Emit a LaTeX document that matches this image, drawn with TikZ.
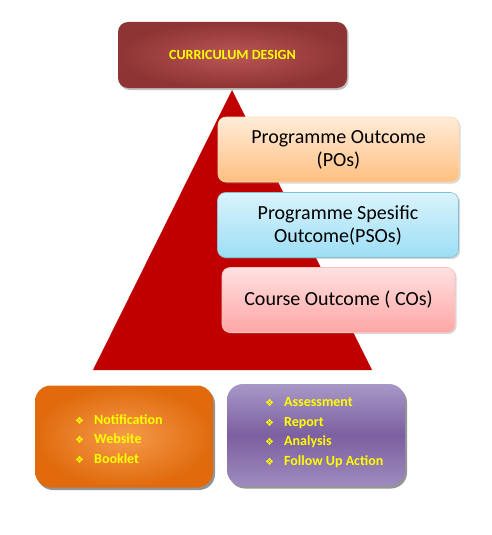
\documentclass[tikz,border=0pt]{standalone}
\usepackage{fontspec}
\usepackage{xcolor}
\setmainfont{Carlito}
\newfontfamily\symfont{DejaVu Sans}
\usetikzlibrary{shadows}

\definecolor{titleouter}{HTML}{8F3434}
\definecolor{titleinner}{HTML}{BA5656}
\definecolor{pyramidred}{HTML}{C00000}
\definecolor{listyellow}{HTML}{FFFF00}
\definecolor{orangeouter}{HTML}{E06A0C}
\definecolor{orangeinner}{HTML}{F59B4C}
\definecolor{lilactop}{HTML}{A898C8}
\definecolor{lilacmid}{HTML}{7C5FA0}
\definecolor{lilacbot}{HTML}{9E8BBE}
\definecolor{skytop}{HTML}{DAF3FC}
\definecolor{skybot}{HTML}{9CDEF5}
\definecolor{skyline}{HTML}{86BFD4}
\newcommand{\itm}{{\symfont\fontsize{10}{12}\selectfont ❖}\hspace{10pt}}

\tikzset{
  outbox/.style={rounded corners=8pt, minimum width=241pt, minimum height=65pt, align=center,
    font=\fontsize{20}{23}\selectfont, text=black, line width=0.6pt,
    drop shadow={shadow xshift=1.5pt, shadow yshift=-1.5pt, opacity=0.3}},
  listbox/.style={rounded corners=16pt, minimum width=178pt, minimum height=102pt,
    drop shadow={shadow xshift=2pt, shadow yshift=-2.5pt, opacity=0.6, fill=black!70}},
  listtext/.style={anchor=west, inner sep=0pt, align=left, text=listyellow,
    font=\fontsize{14}{19.5}\selectfont\bfseries},
}

\begin{document}
\begin{tikzpicture}[x=1pt, y=-1pt]
\useasboundingbox (0,0) rectangle (492,535);

% pyramid behind the outcome boxes
\fill[pyramidred] (232,90) -- (372,370) -- (93,370) -- cycle;

\node[rounded corners=10pt, minimum width=229pt, minimum height=66pt, inner color=titleinner, outer color=titleouter,
  text=listyellow, font=\fontsize{14}{16}\selectfont\bfseries,
  drop shadow={shadow xshift=1.5pt, shadow yshift=-2pt, opacity=0.5}] (design) at (232.5,55) {CURRICULUM DESIGN};

\node[outbox, draw=orange!30, top color=orange!15, bottom color=orange!50!white] (po) at (338.5,149.5) {Programme Outcome\\(POs)};
\node[outbox, draw=skyline, top color=skytop, bottom color=skybot] (pso) at (338,225) {Programme Spesific\\Outcome(PSOs)};
\node[outbox, minimum width=233pt, draw=red!25, top color=red!12, bottom color=red!35!white] (co) at (338.5,300) {Course Outcome ( COs)};

% bottom boxes
\node[listbox, inner color=orangeinner, outer color=orangeouter] (publish) at (124,436.5) {};
\node[listbox, top color=lilactop, bottom color=lilacbot, middle color=lilacmid] (evaluate) at (316,435) {};
\node[listtext] (publishlist) at (75,439) {\itm Notification\\ \itm Website\\ \itm Booklet};
\node[listtext] (evaluatelist) at (265,432.5) {\itm Assessment\\ \itm Report\\ \itm Analysis\\ \itm Follow Up Action};
\end{tikzpicture}
\end{document}
